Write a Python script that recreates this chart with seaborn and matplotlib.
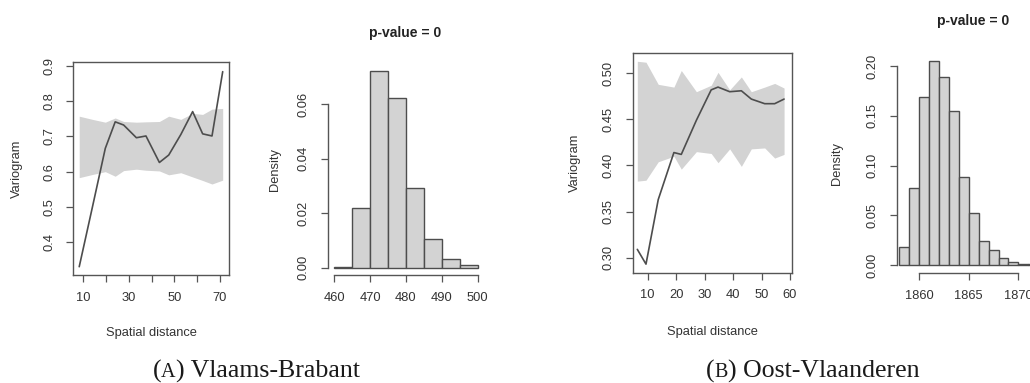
import matplotlib
matplotlib.use("Agg")
import matplotlib.pyplot as plt
import numpy as np
import pandas as pd
import seaborn as sns
from matplotlib.offsetbox import TextArea, HPacker, AnnotationBbox

# ---------------- data ----------------
# (A) Vlaams-Brabant : empirical variogram + envelope
vb_dist = [8.2, 14.0, 19.65, 24.0, 27.7, 33.3, 37.5, 43.4, 47.5, 52.8, 58.0, 62.4, 66.5, 71.2]
vb_gamma = [0.331, 0.500, 0.666, 0.741, 0.732, 0.696, 0.701, 0.626, 0.647, 0.705, 0.770, 0.707, 0.701, 0.883]
vb_env_upper = [0.757, 0.748, 0.740, 0.752, 0.742, 0.740, 0.741, 0.742, 0.757, 0.748, 0.765, 0.762, 0.777, 0.779]
vb_env_lower = [0.583, 0.592, 0.600, 0.587, 0.603, 0.607, 0.604, 0.602, 0.591, 0.597, 0.585, 0.575, 0.565, 0.576]
# (A) permutation histogram
vb_hist_edges = [460, 465, 470, 475, 480, 485, 490, 495, 500]
vb_hist_density = [0.0004, 0.0218, 0.0723, 0.0622, 0.0294, 0.0104, 0.0031, 0.0010]

# (B) Oost-Vlaanderen : empirical variogram + envelope
ov_dist = [6.35, 9.4, 13.7, 19.2, 21.8, 27.1, 32.3, 34.7, 38.8, 42.9, 46.4, 51.1, 54.6, 57.9]
ov_gamma = [0.309, 0.293, 0.363, 0.414, 0.412, 0.449, 0.482, 0.485, 0.480, 0.481, 0.472, 0.467, 0.467, 0.472]
ov_env_upper = [0.513, 0.512, 0.488, 0.485, 0.503, 0.480, 0.487, 0.501, 0.482, 0.496, 0.480, 0.485, 0.489, 0.484]
ov_env_lower = [0.383, 0.384, 0.404, 0.410, 0.396, 0.415, 0.413, 0.403, 0.418, 0.399, 0.418, 0.419, 0.408, 0.412]
# (B) permutation histogram
ov_hist_edges = list(range(1858, 1873))
ov_hist_density = [0.0184, 0.0777, 0.169, 0.205, 0.189, 0.155, 0.088, 0.052, 0.0245,
                   0.0151, 0.0074, 0.0034, 0.0015, 0.0007]

captions = ["A", ") Vlaams-Brabant", "B", ") Oost-Vlaanderen"]
p_title = "p-value = 0"

# ---------------- style ----------------
sns.set_style("ticks")
plt.rcParams["font.family"] = ["Liberation Sans", "DejaVu Sans"]

LINE = "#555555"
TEXT = "#333333"
FILL = "#d3d3d3"
TS = 9.3

fig = plt.figure(figsize=(10.3, 3.83), dpi=100)


def r_style(ax, box=True):
    for s in ax.spines.values():
        s.set_color(LINE)
        s.set_linewidth(1.0)
    if not box:
        ax.spines["top"].set_visible(False)
        ax.spines["right"].set_visible(False)
    ax.tick_params(axis="both", direction="out", length=5, width=0.9,
                   color=LINE, labelcolor=TEXT, labelsize=TS, pad=7)
    ax.tick_params(axis="y", labelrotation=90, pad=8)
    for lbl in ax.get_yticklabels():
        lbl.set_va("center")
    ax.grid(False)


def variogram(ax, dist, gamma, up, lo, xlim, ylim, xticks, xlabels, yticks, ylabels, ylx, xly):
    ax.fill_between(dist, lo, up, color=FILL, lw=0, zorder=1)
    sns.lineplot(x=dist, y=gamma, ax=ax, color="#4d4d4d", lw=1.2, errorbar=None, zorder=3)
    ax.set_xlim(*xlim)
    ax.set_ylim(*ylim)
    ax.set_xticks(xticks)
    ax.set_xticklabels(xlabels)
    ax.set_yticks(yticks)
    ax.set_yticklabels(ylabels)
    r_style(ax, box=True)
    ax.set_xlabel("Spatial distance", fontsize=9.3, color=TEXT)
    ax.set_ylabel("Variogram", fontsize=9.3, color=TEXT)
    ax.yaxis.set_label_coords(ylx, 0.5)
    ax.yaxis.label.set(va="center", ha="center", rotation_mode="anchor")
    ax.xaxis.set_label_coords(0.5, xly)
    ax.xaxis.label.set(va="center", ha="center")


def histogram(ax, edges, dens, xlim, ylim, xticks, yticks, ylabels, xbounds, ybounds, ylx, tx, ty):
    centers = [(a + b) / 2 for a, b in zip(edges[:-1], edges[1:])]
    df = pd.DataFrame({"x": centers, "w": dens})
    sns.histplot(data=df, x="x", weights="w", bins=edges, stat="count",
                 color=FILL, edgecolor="#4d4d4d", linewidth=1.0, alpha=1.0, ax=ax)
    ax.set_xlim(*xlim)
    ax.set_ylim(*ylim)
    ax.set_xticks(xticks)
    ax.set_xticklabels([str(t) for t in xticks])
    ax.set_yticks(yticks)
    ax.set_yticklabels(ylabels)
    r_style(ax, box=False)
    ax.spines["left"].set_bounds(*ybounds)
    ax.spines["bottom"].set_bounds(*xbounds)
    ax.set_xlabel("")
    ax.set_ylabel("Density", fontsize=9.3, color=TEXT)
    ax.yaxis.set_label_coords(ylx, 0.5)
    ax.yaxis.label.set(va="center", ha="center", rotation_mode="anchor")
    ax.set_title(p_title, fontsize=10, fontweight="bold", color="#222222", pad=0,
                 x=tx, y=ty, va="center")


# (A) variogram
ax1 = fig.add_axes([0.07117, 0.28198, 0.15146, 0.55535])
variogram(ax1, vb_dist, vb_gamma, vb_env_upper, vb_env_lower,
          (5.6, 74.1), (0.3075, 0.9095),
          [10, 20, 30, 40, 50, 60, 70], ["10", "", "30", "", "50", "", "70"],
          [0.4, 0.5, 0.6, 0.7, 0.8, 0.9], ["0.4", "0.5", "0.6", "0.7", "0.8", "0.9"],
          -0.361, -0.273)

# (A) histogram
ax2 = fig.add_axes([0.31816, 0.28198, 0.15117, 0.55352])
histogram(ax2, vb_hist_edges, vb_hist_density, (458.16, 501.6), (-0.00268, 0.0752),
          [460, 470, 480, 490, 500], [0.0, 0.02, 0.04, 0.06], ["0.00", "0.02", "0.04", "0.06"],
          (460, 500), (0, 0.06), -0.338, 0.5, 1.1415)

# (B) variogram
ax3 = fig.add_axes([0.61427, 0.28799, 0.15437, 0.57441])
variogram(ax3, ov_dist, ov_gamma, ov_env_upper, ov_env_lower,
          (4.73, 60.58), (0.2837, 0.5223),
          [10, 20, 30, 40, 50, 60], ["10", "20", "30", "40", "50", "60"],
          [0.30, 0.35, 0.40, 0.45, 0.50], ["0.30", "0.35", "0.40", "0.45", "0.50"],
          -0.363, -0.268)

# (B) histogram
ax4 = fig.add_axes([0.87058, 0.28642, 0.14272, 0.57546])
histogram(ax4, ov_hist_edges, ov_hist_density, (1857.75, 1872.55), (-0.0083, 0.2132),
          [1860, 1865, 1870], [0.0, 0.05, 0.10, 0.15, 0.20],
          ["0.00", "0.05", "0.10", "0.15", "0.20"],
          (1860, 1870), (0, 0.20), -0.408, 0.517, 1.146)


# captions with small-caps letter
def caption(letter, rest, cx, cy):
    props_big = dict(fontsize=18.6, family="Liberation Serif", color="#1a1a1a")
    props_sc = dict(fontsize=14.5, family="Liberation Serif", color="#1a1a1a")
    box = HPacker(children=[TextArea("(", textprops=props_big),
                            TextArea(letter, textprops=props_sc),
                            TextArea(rest, textprops=props_big)],
                  align="baseline", pad=0, sep=0)
    ab = AnnotationBbox(box, (cx / 1030, 1 - cy / 383), xycoords="figure fraction",
                        box_alignment=(0.5, 0.5), frameon=False, pad=0)
    fig.add_artist(ab)


caption(captions[0], captions[1], 256, 371)
caption(captions[2], captions[3], 813, 371)

fig.savefig("out.png", dpi=100)
